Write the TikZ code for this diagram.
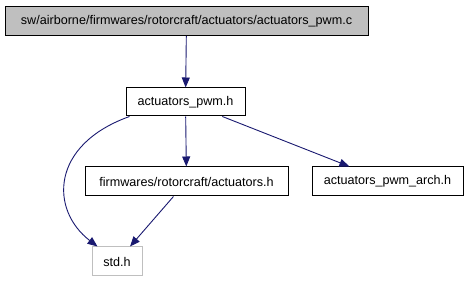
\documentclass[tikz,border=0pt]{standalone}
\usepackage{xcolor}
\usepackage{fontspec}
\setmainfont{Liberation Sans}
\usetikzlibrary{arrows.meta}

\definecolor{edgeblue}{HTML}{191970}
\definecolor{filegray}{HTML}{BFBFBF}

\begin{document}
\begin{tikzpicture}[x=1pt, y=-1pt,
    every node/.style={font=\fontsize{12.6}{14}\selectfont, inner sep=0pt},
    filebox/.style={draw=black, line width=1pt, rectangle, fill=white, align=center},
    edge/.style={draw=edgeblue, line width=0.9pt, -{Triangle[length=10pt, width=8pt]}}]
    \useasboundingbox (0,0) rectangle (469,283);
    % Source file
    \node[filebox, fill=filegray, minimum width=363pt, minimum height=29pt] (src) at (186.5,21) {sw/airborne/firmwares/rotorcraft/actuators/actuators\_pwm.c};
    % Headers
    \node[filebox, minimum width=119pt, minimum height=28pt] (pwm) at (185.5,102) {actuators\_pwm.h};
    \node[filebox, minimum width=203pt, minimum height=29pt] (fw) at (186.5,181.5) {firmwares/rotorcraft/actuators.h};
    \node[filebox, minimum width=151pt, minimum height=29pt] (arch) at (387.5,181.5) {actuators\_pwm\_arch.h};
    \node[filebox, draw=filegray, minimum width=50pt, minimum height=29pt] (std) at (117,261.5) {std.h};
    % Includes
    \draw[edge] (src) -- (pwm);
    \draw[edge] (pwm) -- (fw);
    \draw[edge] (pwm) -- (arch);
    \draw[edge] (fw) -- (std);
    \draw[edge] ([xshift=4pt]pwm.south west) .. controls (50,145) and (50,210) .. ([xshift=6pt]std.north west);
\end{tikzpicture}
\end{document}
